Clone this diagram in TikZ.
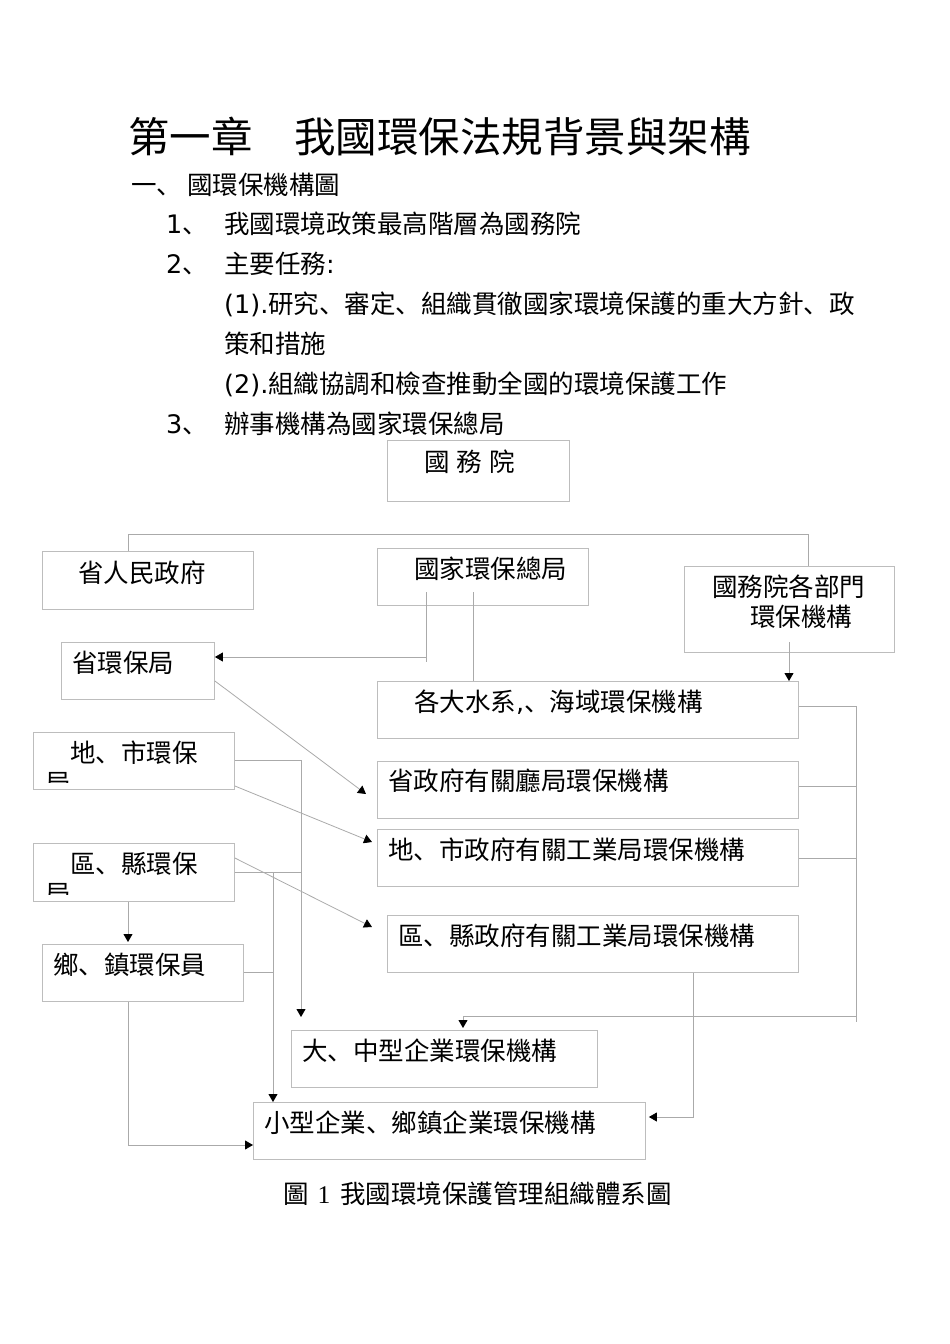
\documentclass[tikz,border=0pt]{standalone}
\usepackage{fontspec}
\setmainfont{Noto Sans CJK SC}
\newfontfamily\dvfont{DejaVu Sans}
\newfontfamily\lserif{Liberation Serif}
\usetikzlibrary{arrows.meta,backgrounds,calc}
\definecolor{boxgray}{HTML}{BDBDBD}
\definecolor{linegray}{HTML}{AAAAAA}
\tikzset{
  box/.style={draw=boxgray, line width=0.9pt, fill=white, inner sep=0pt, anchor=north west},
  txt/.style={inner sep=0pt, anchor=base west, font=\fontsize{25.5}{30}\selectfont},
  ttl/.style={inner sep=0pt, anchor=base west, font=\fontsize{41.5}{48}\selectfont},
  conn/.style={draw=linegray, line width=0.8pt},
  arr/.style={conn, -{Triangle[length=8pt,width=9pt,color=black]}},
}
\begin{document}
\begin{tikzpicture}[x=1pt,y=-1pt]
\useasboundingbox[fill=white] (0,0) rectangle (950,1344);

% ---------- text above the chart ----------
\node[ttl] (title) at (128,152.6) {第一章　我國環保法規背景與架構};
\node[txt] (sec) at (131,194.6) {一、\hspace{5pt}國環保機構圖};
\node[txt] (n1) at (166,233.6) {{\dvfont 1}、};
\node[txt] (t1) at (224,233.6) {我國環境政策最高階層為國務院};
\node[txt] (n2) at (166,273.6) {{\dvfont 2}、};
\node[txt] (t2) at (224,273.6) {主要任務{\dvfont :}};
\node[txt] (t3) at (224,313.6) {{\dvfont (1).}研究、審定、組織貫徹國家環境保護的重大方針、政};
\node[txt] (t4) at (224,353.6) {策和措施};
\node[txt] (t5) at (224,393.6) {{\dvfont (2).}組織協調和檢查推動全國的環境保護工作};
\node[txt] (n3) at (166,433.6) {{\dvfont 3}、};
\node[txt] (t6) at (224,433.6) {辦事機構為國家環保總局};

% ---------- boxes ----------
\node[box, minimum width=182pt, minimum height=61pt] (gwy) at (387,440) {};
\node[box, minimum width=211pt, minimum height=58pt] (srm) at (42,551) {};
\node[box, minimum width=211pt, minimum height=57pt] (gjh) at (377,548) {};
\node[box, minimum width=210pt, minimum height=86pt] (gbm) at (684,566) {};
\node[box, minimum width=153pt, minimum height=57pt] (shb) at (61,642) {};
\node[box, minimum width=421pt, minimum height=57pt] (dsx) at (377,681) {};
\node[box, minimum width=201pt, minimum height=57pt] (dsh) at (33,732) {};
\node[box, minimum width=421pt, minimum height=57pt] (szf) at (377,761) {};
\node[box, minimum width=421pt, minimum height=57pt] (dzf) at (377,829) {};
\node[box, minimum width=201pt, minimum height=58pt] (qxh) at (33,843) {};
\node[box, minimum width=411pt, minimum height=57pt] (qzf) at (387,915) {};
\node[box, minimum width=201pt, minimum height=57pt] (xzh) at (42,944) {};
\node[box, minimum width=306pt, minimum height=57pt] (dzx) at (291,1030) {};
\node[box, minimum width=392pt, minimum height=57pt] (xxq) at (253,1102) {};

% ---------- box texts ----------
\node[txt] (gwyT) at (424,471.6) {國\hspace{7pt}務\hspace{7pt}院};
\node[txt] (srmT) at (78,582.6) {省人民政府};
\node[txt] (gjhT) at (414,578.6) {國家環保總局};
\node[txt] (gbmT) at (712,596.6) {國務院各部門};
\node[txt] (gbmT2) at (750,626.6) {環保機構};
\node[txt] (shbT) at (72,672.6) {省環保局};
\node[txt] (dsxT) at (414,711.6) {各大水系{\dvfont ,}、海域環保機構};
\node[txt] (dshT) at (70,762.6) {地、市環保};
\begin{scope}
  \clip (dsh.north west) rectangle ($(dsh.south east)+(0,-7)$);
  \node[txt] (dshT2) at (45,792.4) {局};
\end{scope}
\node[txt] (szfT) at (388,790.6) {省政府有關廳局環保機構};
\node[txt] (dzfT) at (388,859.6) {地、市政府有關工業局環保機構};
\node[txt] (qxhT) at (70,873.6) {區、縣環保};
\begin{scope}
  \clip (qxh.north west) rectangle ($(qxh.south east)+(0,-7)$);
  \node[txt] (qxhT2) at (45,903.4) {局};
\end{scope}
\node[txt] (qzfT) at (398,945.6) {區、縣政府有關工業局環保機構};
\node[txt] (xzhT) at (53,974.6) {鄉、鎮環保員};
\node[txt] (dzxT) at (302,1060.6) {大、中型企業環保機構};
\node[txt] (xxqT) at (264,1132.6) {小型企業、鄉鎮企業環保機構};

\node[txt] (cap) at (283,1203.6) {圖\hspace{9pt}{\lserif 1}\hspace{10pt}我國環境保護管理組織體系圖};

% ---------- free ends ----------
\coordinate (busL) at (128,534);
\coordinate (busR) at (808,534);
\coordinate (g1a) at (426,592);
\coordinate (g1b) at (426,662);
\coordinate (g2a) at (473,592);
\coordinate (bmA) at (789,642);
\coordinate (jD) at (301,760);
\coordinate (jE) at (301,1017);
\coordinate (qJ) at (273,872);
\coordinate (rT) at (856,706);
\coordinate (rB) at (856,1022);
\coordinate (rJ) at (856,1016);
\coordinate (mJ) at (463,1016);
\coordinate (xB) at (128,1145);
\coordinate (qB) at (693,1117);

% ---------- connectors hidden under boxes ----------
\begin{pgfonlayer}{background}
\draw[arr] (463,0 |- gwy.south) -- ($(463,0 |- gjh.north)+(0,5)$);
\draw[arr] (128,0 |- srm.south) -- ($(128,0 |- shb.north)+(0,5)$);
\draw[arr] (128,0 |- shb.south) -- ($(128,0 |- dsh.north)+(0,5)$);
\end{pgfonlayer}

% ---------- connectors ----------
\draw[conn] (128,0 |- srm.north) -- (busL) -- (busR) -- (808,0 |- gbm.north);
\draw[conn] (g1a) -- (g1b);
\draw[arr] (426,657) -- (shb.east |- 0,657);
\draw[conn] (g2a) -- (473,0 |- dsx.north);
\draw[arr] (bmA) -- (789,0 |- dsx.north);
\draw[arr] (shb.east |- 0,681) -- (366,794);
\draw[arr] (dsh.east |- 0,786) -- (372,842);
\draw[arr] (qxh.east |- 0,858) -- (372,927);
\draw[conn] (dsh.east |- 0,760) -- (jD);
\draw[arr] (jD) -- (jE);
\draw[conn] (qxh.east |- 0,872) -- (301,872);
\draw[arr] (qJ) -- (273,0 |- xxq.north);
\draw[arr] (128,0 |- qxh.south) -- ($(128,0 |- xzh.north)+(0,-2)$);
\draw[conn] (xzh.east |- 0,972) -- (273,972);
\draw[arr] (128,0 |- xzh.south) -- (xB) -- (xxq.west |- xB);
\draw[conn] (dsx.east |- rT) -- (rT) -- (rB);
\draw[conn] (szf.east |- 0,786) -- (856,786);
\draw[conn] (dzf.east |- 0,858) -- (856,858);
\draw[arr] (rJ) -- (mJ) -- ($(mJ |- dzx.north)+(0,-2)$);
\draw[arr] (693,0 |- qzf.south) -- (qB) -- ($(xxq.east |- qB)+(3,0)$);
\end{tikzpicture}
\end{document}
